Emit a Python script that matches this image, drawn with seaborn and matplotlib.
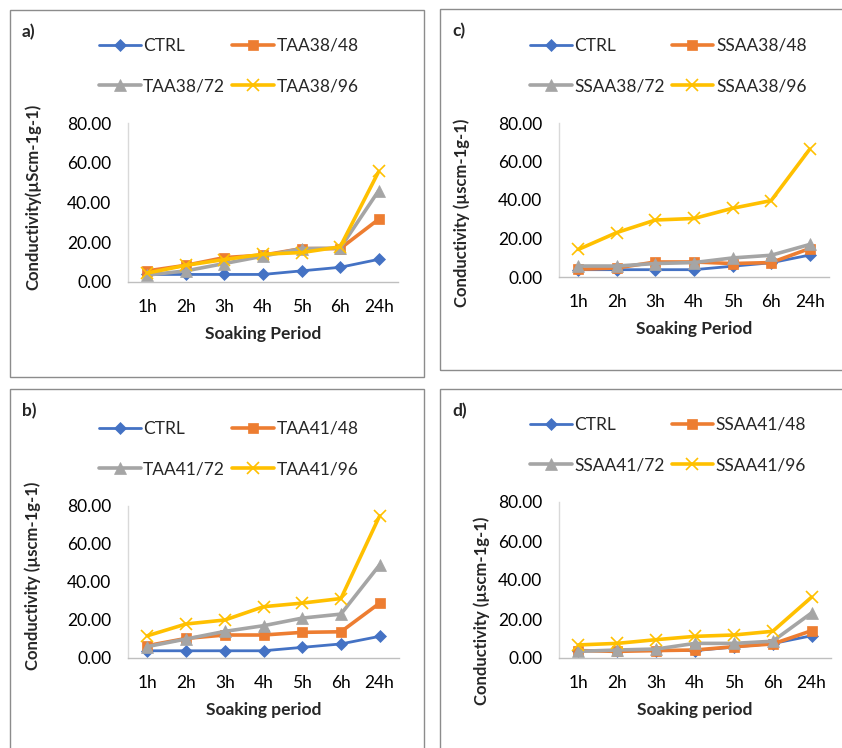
import matplotlib
matplotlib.use("Agg")
import matplotlib.pyplot as plt
import seaborn as sns
from matplotlib.patches import Rectangle

sns.set_style("white")
plt.rcParams['font.family'] = ['Lato', 'DejaVu Sans']

periods = ["1h", "2h", "3h", "4h", "5h", "6h", "24h"]

ctrl = [3.8, 3.8, 3.8, 3.8, 5.6, 7.4, 11.4]

# panel a
taa38_48 = [5.6, 8.4, 12.3, 13.5, 16.8, 16.8, 31.6]
taa38_72 = [3.5, 5.6, 9.3, 13.0, 16.8, 17.0, 46.0]
taa38_96 = [4.5, 8.4, 11.3, 14.0, 14.8, 17.7, 55.6]

# panel b
taa41_48 = [6.5, 10.3, 12.1, 12.1, 13.5, 13.8, 28.9]
taa41_72 = [6.0, 10.0, 14.0, 17.0, 21.0, 23.1, 49.0]
taa41_96 = [11.7, 17.9, 20.0, 27.0, 28.9, 31.3, 74.8]

# panel c
ssaa38_48 = [4.0, 4.7, 7.8, 7.8, 7.0, 7.5, 14.8]
ssaa38_72 = [5.7, 5.7, 7.0, 7.5, 9.9, 11.3, 16.9]
ssaa38_96 = [14.3, 23.1, 29.6, 30.4, 35.7, 39.7, 66.4]

# panel d
ssaa41_48 = [3.8, 3.4, 3.8, 4.1, 5.8, 7.2, 14.0]
ssaa41_72 = [3.4, 4.1, 4.6, 7.5, 7.5, 8.6, 23.1]
ssaa41_96 = [6.7, 7.5, 9.4, 11.1, 11.8, 13.7, 31.2]

yticks = [0, 20, 40, 60, 80]

colors = ["#4472C4", "#ED7D31", "#A5A5A5", "#FFC000"]
markers = ["D", "s", "^", "x"]
msizes = [6, 7, 8, 8]
lws = [2.0, 2.6, 2.6, 2.6]

W, H = 842, 748
fig = plt.figure(figsize=(W / 100, H / 100), dpi=100)


def px_axes(left, top, right, bottom):
    return fig.add_axes([left / W, 1 - bottom / H, (right - left) / W, (bottom - top) / H])


panels = [
    dict(label="a)", box=(10, 10, 424, 377), ax=(128, 123, 398, 282), ylab=(32, 197),
         names=["CTRL", "TAA38/48", "TAA38/72", "TAA38/96"],
         series=[ctrl, taa38_48, taa38_72, taa38_96],
         ylabel="Conductivity(µScm-1g-1)", xlabel="Soaking Period"),
    dict(label="c)", box=(440, 9, 845, 370), ax=(559, 123, 829, 277), ylab=(461, 213),
         names=["CTRL", "SSAA38/48", "SSAA38/72", "SSAA38/96"],
         series=[ctrl, ssaa38_48, ssaa38_72, ssaa38_96],
         ylabel="Conductivity (µscm-1g-1)", xlabel="Soaking Period"),
    dict(label="b)", box=(10, 389, 424, 752), ax=(128, 506, 399, 658), ylab=(32, 576),
         names=["CTRL", "TAA41/48", "TAA41/72", "TAA41/96"],
         series=[ctrl, taa41_48, taa41_72, taa41_96],
         ylabel="Conductivity (µscm-1g-1)", xlabel="Soaking period"),
    dict(label="d)", box=(440, 389, 845, 752), ax=(559, 502, 831, 658), ylab=(481, 611),
         names=["CTRL", "SSAA41/48", "SSAA41/72", "SSAA41/96"],
         series=[ctrl, ssaa41_48, ssaa41_72, ssaa41_96],
         ylabel="Conductivity (µscm-1g-1)", xlabel="Soaking period"),
]

for p in panels:
    bl, bt, br, bb = p["box"]
    fig.patches.append(Rectangle((bl / W, 1 - bb / H), (br - bl) / W, (bb - bt) / H,
                                 transform=fig.transFigure, fill=False,
                                 edgecolor="#8C8C8C", linewidth=1.0))
    fig.text((bl + 12) / W, 1 - (bt + 22) / H, p["label"], fontsize=12.5,
             fontweight="bold", ha="left", va="center")

    ax = px_axes(*p["ax"])
    for name, vals, c, m, ms, lw in zip(p["names"], p["series"], colors, markers, msizes, lws):
        sns.lineplot(x=periods, y=vals, ax=ax, color=c, marker=m, markersize=ms,
                     linewidth=lw, markeredgecolor=c, markeredgewidth=1.2 if m == "x" else 0.5,
                     label=name, sort=False)
    ax.set_xlim(-0.5, 6.5)
    ax.set_ylim(0, 80)
    ax.set_yticks(yticks)
    ax.set_yticklabels([f"{v:.2f}" for v in yticks])
    ax.tick_params(axis="both", length=0, labelsize=12.5, pad=12, colors="#000000")
    for s in ["top", "right"]:
        ax.spines[s].set_visible(False)
    ax.spines["left"].set_color("#D9D9D9")
    ax.spines["bottom"].set_color("#BFBFBF")
    ax.spines["left"].set_linewidth(1.0)
    ax.spines["bottom"].set_linewidth(1.0)
    ax.set_xlabel(p["xlabel"], fontsize=12.5, fontweight="bold", labelpad=8)
    ax.set_ylabel(p["ylabel"], fontsize=12, fontweight="bold")
    lx, ly = p["ylab"]
    ax.yaxis.set_label_coords((lx + 9) / W, 1 - ly / H, transform=fig.transFigure)
    ax.legend_.remove()
    handles, labels = ax.get_legend_handles_labels()
    order = [0, 2, 1, 3]
    al, at = p["ax"][0], p["ax"][1]
    fig.legend([handles[i] for i in order], [labels[i] for i in order], ncol=2,
               frameon=False, fontsize=12.5,
               loc="upper left",
               bbox_to_anchor=((al - 36) / W, 1 - (at - 92) / H),
               handlelength=2.4, handletextpad=0.15, columnspacing=0.4,
               labelspacing=1.4, borderaxespad=0)

fig.savefig("out.png", dpi=100, facecolor="white")
